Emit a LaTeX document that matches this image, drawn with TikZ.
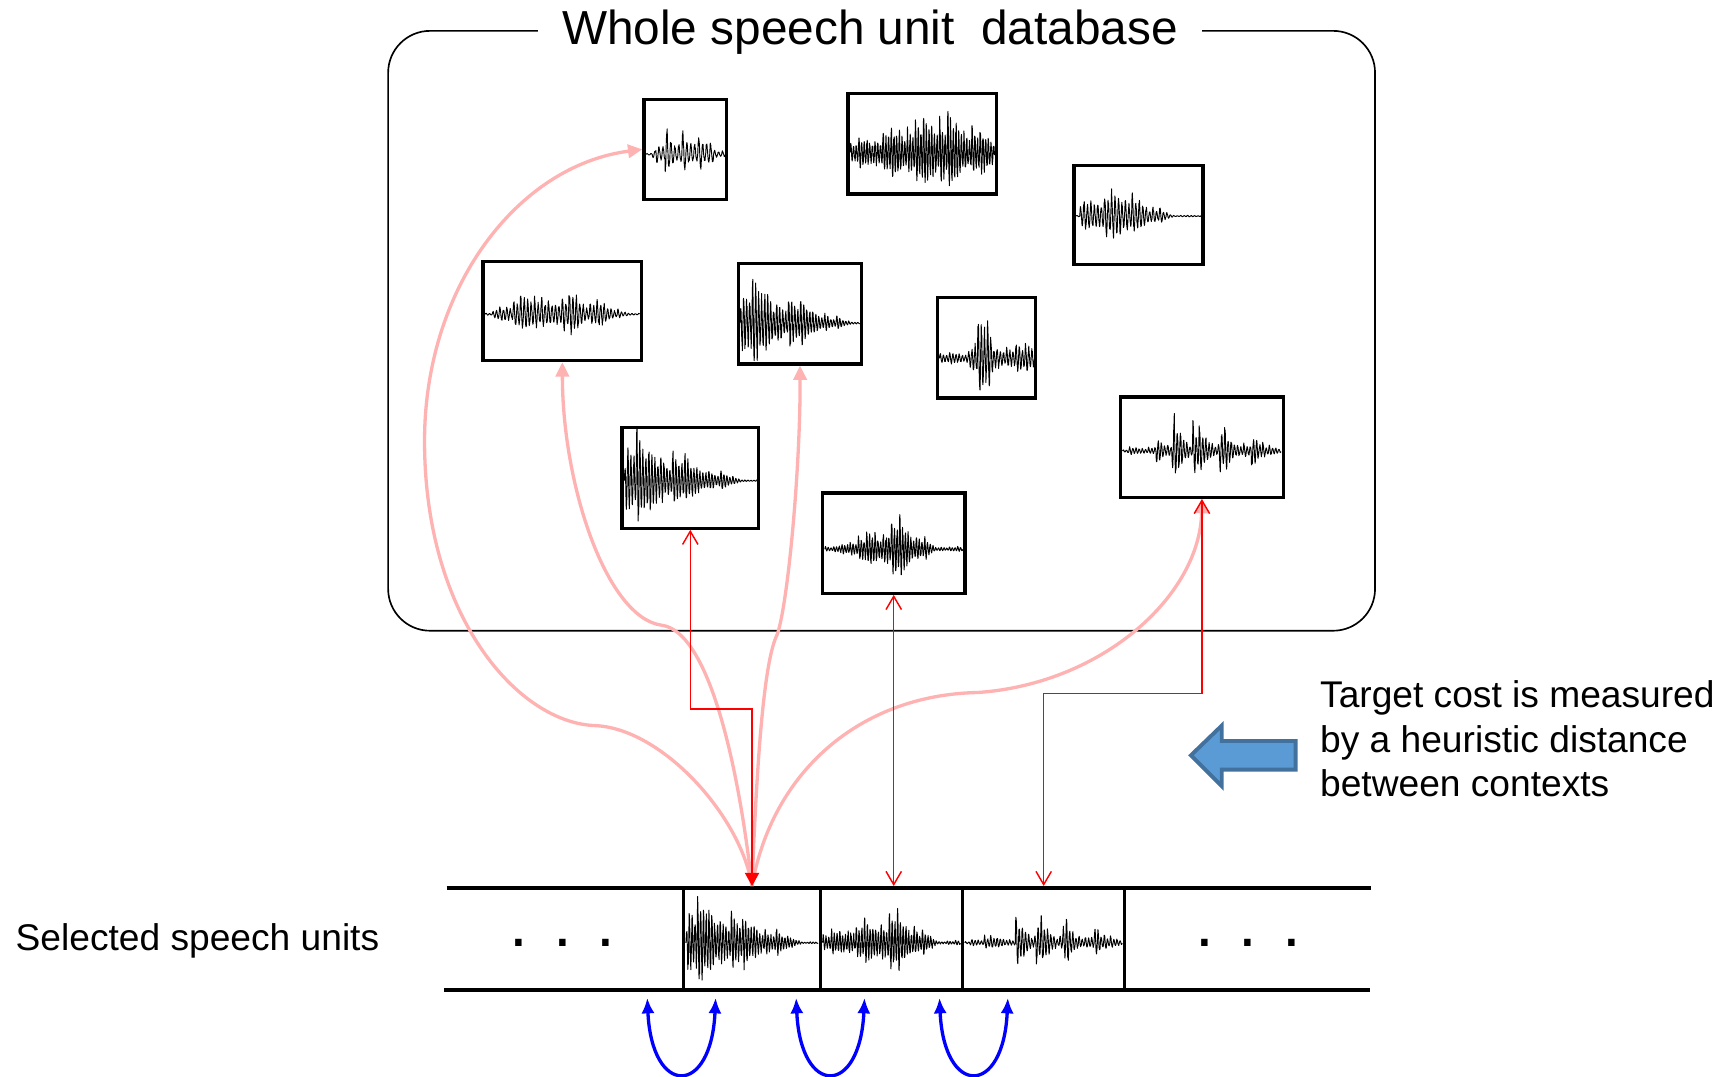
\documentclass[tikz,border=0pt]{standalone}
\usepackage{fontspec}
\setmainfont{Liberation Sans}
\usetikzlibrary{arrows.meta,calc}

\definecolor{pinkc}{RGB}{255,178,178}
\definecolor{redc}{RGB}{255,0,0}
\definecolor{bluec}{RGB}{0,0,255}
\definecolor{blockfill}{RGB}{91,155,213}
\definecolor{blockdraw}{RGB}{65,113,156}

\tikzset{declare function={
  burst(\x,\p,\k)=(\x>\p)*exp(-\k*max(\x-\p,0));
  bell(\x,\c,\w)=exp(-((\x-\c)/\w)*((\x-\c)/\w));
  tent(\x,\c,\l,\r)=(\x<\c)*max(0,1-(\c-\x)/\l)+(\x>\c)*max(0,1-(\x-\c)/\r);
}}

% speech-like trace: x0, x1, baseline, peak height, pitch period (0..1), seed, envelope in \t
\newcommand\speechwave[7]{%
  \pgfmathsetseed{#6}%
  \pgfmathsetmacro\wcyc{max(1,round(#5*(#2-#1)/2.7))}%
  \pgfmathtruncatemacro\wns{4*(#2-#1)}%
  \draw[wave] plot[variable=\t, domain=0:1, samples=\wns]
    ({#1+\t*(#2-#1)},
     {#3-(#4/0.8)*(#7)*((0.8+0.2*sin(97*floor(\t/#5)))*(0.5+0.5*exp(-3*mod(\t,#5)/#5))*sin(360*\wcyc*mod(\t,#5)/#5)*(0.8+0.2*rand)+0.05*rand)});
}

\begin{document}
\begin{tikzpicture}[x=1pt,y=-1pt,
  wbox/.style={draw=black, line width=3pt, fill=white, inner sep=0pt},
  sbox/.style={draw=black, line width=3pt, inner sep=0pt, minimum height=93pt},
  wave/.style={line width=0.85pt, line join=round},
  redarrow/.style={draw=redc, line width=1.3pt,
    {Straight Barb[length=12pt,width=14pt]}-{Straight Barb[length=12pt,width=14pt]}},
  redjoin/.style={draw=redc, line width=1.3pt,
    {Straight Barb[length=12pt,width=14pt]}-{Triangle[length=12pt,width=13pt,fill=redc]}},
  pinkarrow/.style={draw=pinkc, line width=3pt, -{Triangle[length=13pt,width=12pt]}},
  bluearrow/.style={draw=bluec, line width=3pt,
    {Latex[length=14pt,width=12pt]}-{Latex[length=14pt,width=12pt]}},
  bigtext/.style={font=\fontsize{43.3}{52}\selectfont, inner sep=0pt},
  midtext/.style={font=\fontsize{33.7}{40}\selectfont, inner sep=0pt, anchor=base west},
  dots/.style={font=\fontsize{61}{70}\selectfont, inner sep=0pt, anchor=base},
  strip/.style={line width=3.5pt}
]
\useasboundingbox (0,0) rectangle (1568,976);

% database frame and its title
\node[draw, line width=1.5pt, rounded corners=38pt, minimum width=895pt,
      minimum height=544pt, inner sep=0pt] (db) at (799.5,300) {};
\node[bigtext, fill=white, inner xsep=22pt, inner ysep=4pt, anchor=base]
      (title) at (789,40) {Whole speech unit\ \ database};

% unit boxes in the database
\node[wbox, minimum width=75pt,  minimum height=91pt] (d1) at (621.5,135.5) {};
\node[wbox, minimum width=135pt, minimum height=91pt] (d2) at (836.5,130.5) {};
\node[wbox, minimum width=117pt, minimum height=90pt] (d3) at (1032.5,195) {};
\node[wbox, minimum width=144pt, minimum height=90pt] (d4) at (510,282) {};
\node[wbox, minimum width=111pt, minimum height=91pt] (d5) at (725.5,284.5) {};
\node[wbox, minimum width=89pt,  minimum height=91pt] (d6) at (894.5,315.5) {};
\node[wbox, minimum width=124pt, minimum height=91pt] (d7) at (626,433.5) {};
\node[wbox, minimum width=148pt, minimum height=91pt] (d8) at (1090,405.5) {};
\node[wbox, minimum width=129pt, minimum height=91pt] (d9) at (810.5,492.5) {};

\speechwave{586}{658}{140}{25}{0.05}{11}{0.04+0.15*(\t>0.08)*(\t<0.85)+0.5*burst(\t,0.12,9)+burst(\t,0.24,8)+0.9*burst(\t,0.45,8)+0.8*burst(\t,0.65,7)}
\speechwave{771}{902}{139}{46}{0.056}{12}{0.06+0.2*(\t<0.63)*(1-\t/0.63)+0.9*tent(\t,0.63,0.63,0.6)}
\speechwave{976}{1090}{196}{28}{0.055}{13}{0.03+(\t>0.03)*max(0.55*(\t<0.33),tent(\t,0.33,0.6,0.45))}
\speechwave{440}{580}{285}{26}{0.045}{14}{0.05+0.9*max(0,min(1,min((\t-0.04)/0.16,(0.93-\t)/0.3)))*(0.8+0.2*sin(1500*\t))}
\speechwave{671}{780}{293}{40}{0.1}{15}{0.03+min(1,\t/0.02)*max(0,min(1,1.2-1.3*\t))}
\speechwave{852}{938}{325}{47}{0.1}{16}{max(0.12+0.2*(\t>0.52),bell(\t,0.45,0.12))}
\speechwave{566}{687}{436}{43}{0.09}{17}{0.03+min(1,\t/0.02)*max(0,min(1,1.15-1.3*\t))}
\speechwave{1018}{1162}{409}{37}{0.04}{18}{0.04+0.07*(\t>0.03)*(\t<0.9)+0.4*burst(\t,0.21,14)+burst(\t,0.31,14)+0.9*burst(\t,0.44,14)+0.75*burst(\t,0.61,14)+0.5*burst(\t,0.81,14)}
\speechwave{748}{873}{498}{33}{0.06}{19}{0.08+0.9*tent(\t,0.55,0.47,0.25)}

% selected sequence
\draw[strip] (405,805) -- (1243,805);
\draw[strip] (403,898) -- (1242,898);
\node[sbox, minimum width=124pt] (b1) at (682,851.5) {};
\node[sbox, minimum width=129pt] (b2) at (808.5,851.5) {};
\node[sbox, minimum width=147pt] (b3) at (946.5,851.5) {};
\speechwave{622}{742}{855}{43}{0.085}{21}{0.03+min(1,\t/0.02)*max(0,min(1,1.15-1.3*\t))}
\speechwave{746}{871}{855}{36}{0.06}{22}{0.06+0.2*(\t<0.54)*(1-\t/0.54)+0.85*tent(\t,0.54,0.54,0.3)}
\speechwave{875}{1018}{855}{33}{0.04}{23}{0.04+0.07*(\t>0.03)*(\t<0.9)+0.25*burst(\t,0.12,14)+0.85*burst(\t,0.32,14)+burst(\t,0.45,14)+0.75*burst(\t,0.62,14)+0.55*burst(\t,0.82,14)}

\node[dots] (ldots) at (510,858.5) {. . .};
\node[dots] (rdots) at (1132,858.5) {. . .};

% candidate links
\draw[pinkarrow] (b1.north) .. controls (672,740) and (600,660) .. (539,658)
   .. controls (470,655) and (385,560) .. (385,400)
   .. controls (385,260) and (470,150) .. (d1.west);
\draw[pinkarrow] (b1.north) .. controls (668,680) and (640,572) .. (600,567)
   .. controls (550,560) and (510,440) .. (d4.south);
\draw[pinkarrow] (b1.north) .. controls (686,700) and (692,600) .. (705,575)
   .. controls (715,545) and (726,420) .. (d5.south);
\draw[pinkarrow] (b1.north) .. controls (700,700) and (780,630) .. (887,628)
   .. controls (1000,620) and (1088,540) .. (d8.south);

% target-cost links
\coordinate (k1) at (682,643);
\coordinate (k3) at (946.5,629);
\draw[redjoin] (d7.south) |- (k1) -- (b1.north);
\draw[redarrow] (d9.south) -- (d9.south |- b2.north);
\draw[redarrow] (d8.south) |- (k3) -- (b3.north);

% concatenation links
\coordinate (u1a) at (587,905); \coordinate (u1b) at (649,905);
\coordinate (u2a) at (722,905); \coordinate (u2b) at (784,905);
\coordinate (u3a) at (852,905); \coordinate (u3b) at (914,905);
\draw[bluearrow] (u1a) .. controls +(4,90) and +(-4,90) .. (u1b);
\draw[bluearrow] (u2a) .. controls +(4,90) and +(-4,90) .. (u2b);
\draw[bluearrow] (u3a) .. controls +(4,90) and +(-4,90) .. (u3b);

% block arrow and notes
\draw[line width=3.5pt, draw=blockdraw, fill=blockfill, line join=miter]
  (1080,685) -- (1108,658) -- (1108,672) -- (1175,672) -- (1175,698)
  -- (1108,698) -- (1108,713) -- cycle;
\node[midtext] (t1) at (1197,642) {Target cost is measured};
\node[midtext] (t2) at (1197,682) {by a heuristic distance};
\node[midtext] (t3) at (1197,722) {between contexts};
\node[midtext] (sel) at (14,862) {Selected speech units};
\end{tikzpicture}
\end{document}
